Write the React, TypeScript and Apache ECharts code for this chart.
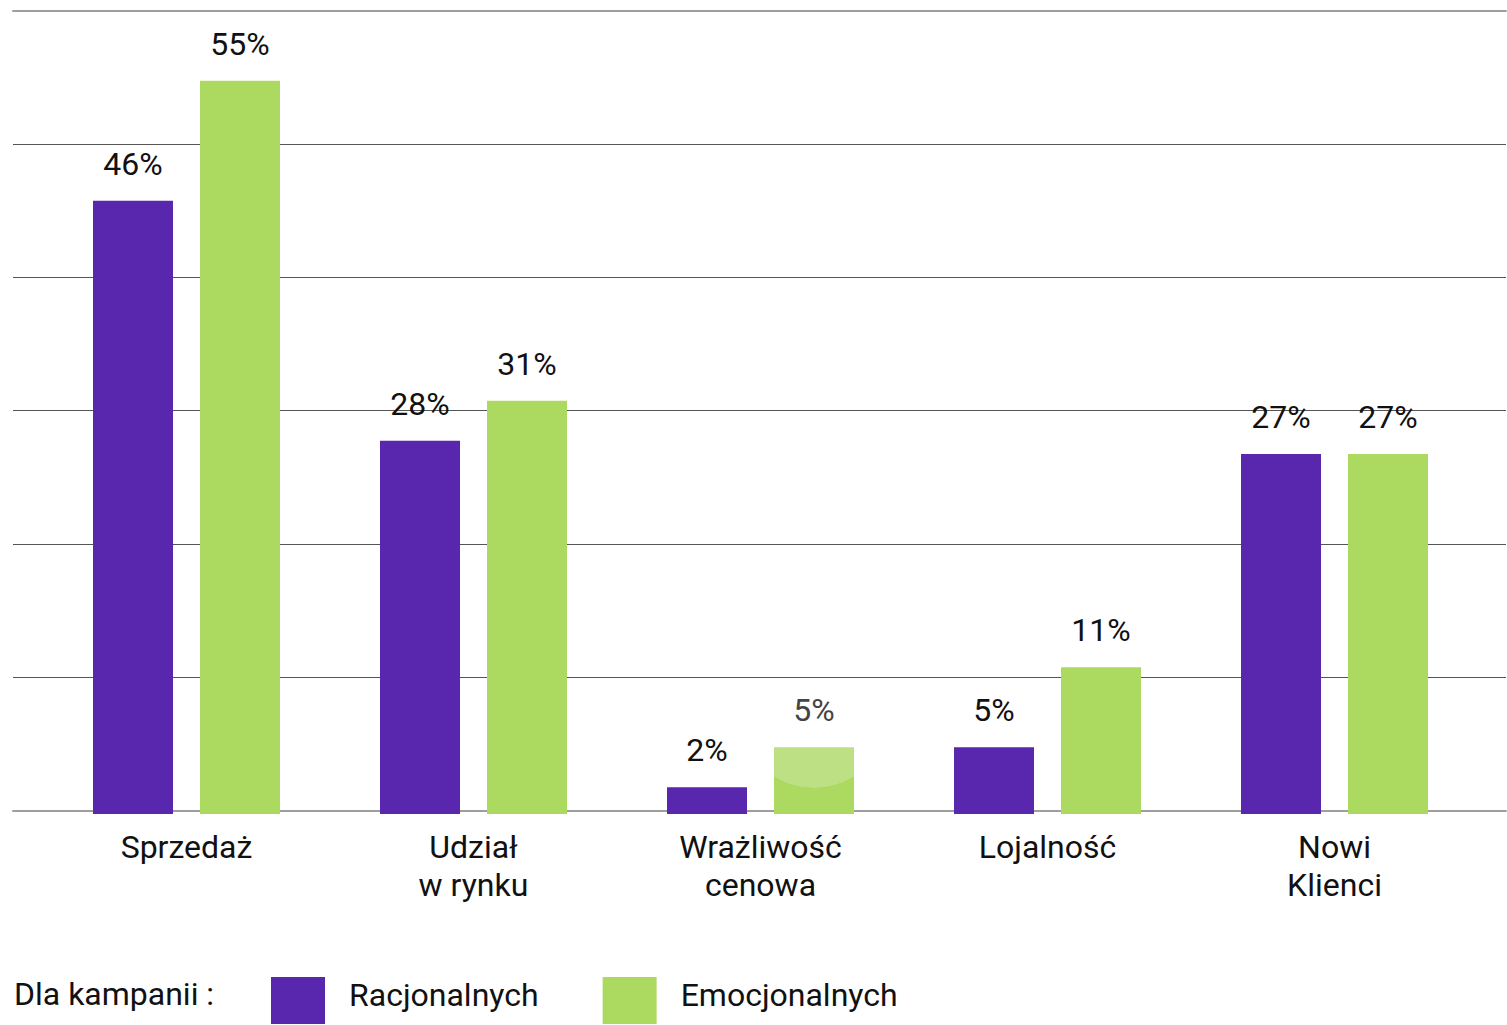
import { useEffect, useRef } from 'react';
import * as echarts from 'echarts';

// Campaign effectiveness by goal, in percent
const categories = ['Sprzedaż', 'Udział\nw rynku', 'Wrażliwość\ncenowa', 'Lojalność', 'Nowi\nKlienci'];
const rationalValues = [46, 28, 2, 5, 27];
const emotionalValues = [55, 31, 5, 11, 27];
const seriesNames = ['Racjonalnych', 'Emocjonalnych'];
const legendTitle = 'Dla kampanii :';
const axisMin = 0;
const axisMax = 60;
const axisStep = 10;
// emotional bar shown in its lit (hovered) state
const litIndex = 2;

const PURPLE = '#5927ad';
const GREEN = '#acd960';
const GREEN_LIT = '#bde084';
const FONT = 'Roboto, sans-serif';
const FONT_SIZE = 32;
const TEXT = '#111111';

const hiddenValueAxis = (gridIndex: number, position: string) => ({
  gridIndex,
  type: 'value',
  min: 0,
  max: 1,
  position,
  axisLine: { show: true, onZero: false, lineStyle: { color: '#9e9e9e', width: 2 } },
  axisTick: { show: false },
  axisLabel: { show: false },
  splitLine: { show: false },
});

const valueLabel = {
  show: true,
  position: 'top',
  distance: 21,
  formatter: '{c}%',
  fontFamily: FONT,
  fontSize: FONT_SIZE,
  color: TEXT,
};

export default function App() {
  const ref = useRef<HTMLDivElement>(null);

  useEffect(() => {
    if (!ref.current) return;
    const chart = echarts.init(ref.current, undefined, { renderer: 'svg' });

    const emotionalData = emotionalValues.map((v, i) =>
      i === litIndex
        ? {
            value: v,
            itemStyle: {
              color: new echarts.graphic.RadialGradient(0.5, -0.21, 0.816, [
                { offset: 0, color: GREEN_LIT },
                { offset: 0.995, color: GREEN_LIT },
                { offset: 1, color: GREEN },
              ]),
            },
            label: {
              color: '#444444',
              distance: 17,
              backgroundColor: 'rgba(255,255,255,0.5)',
              padding: [14, 44, 4, 44],
            },
          }
        : v
    );

    chart.setOption({
      animation: false,
      grid: [
        { left: 13, width: 1493, top: 10.5, height: 800 },
        { left: 43, width: 1435, top: 14, height: 800 },
      ],
      xAxis: [
        hiddenValueAxis(0, 'bottom'),
        hiddenValueAxis(0, 'top'),
        {
          gridIndex: 1,
          type: 'category',
          data: categories,
          axisLine: { show: false },
          axisTick: { show: false },
          axisLabel: {
            interval: 0,
            margin: 14,
            fontFamily: FONT,
            fontSize: FONT_SIZE,
            lineHeight: 38,
            color: TEXT,
          },
        },
      ],
      yAxis: [
        {
          gridIndex: 0,
          type: 'value',
          min: axisMin,
          max: axisMax,
          interval: axisStep,
          axisLine: { show: false },
          axisTick: { show: false },
          axisLabel: { show: false },
          splitLine: {
            show: true,
            showMinLine: false,
            showMaxLine: false,
            lineStyle: { color: '#555555', width: 1 },
          },
        },
        {
          gridIndex: 1,
          type: 'value',
          min: axisMin,
          max: axisMax,
          interval: axisStep,
          show: false,
          splitLine: { show: false },
        },
      ],
      legend: {
        left: 271,
        top: 977,
        padding: 0,
        icon: 'rect',
        itemWidth: 54,
        itemHeight: 47,
        itemGap: 64,
        selectedMode: false,
        data: seriesNames,
        formatter: '{n|{name}}',
        textStyle: {
          fontFamily: FONT,
          fontSize: FONT_SIZE,
          color: TEXT,
          padding: [0, 0, 0, 19],
          rich: {
            n: {
              fontFamily: FONT,
              fontSize: FONT_SIZE,
              color: TEXT,
              lineHeight: 32,
              padding: [0, 0, 12, 0],
            },
          },
        },
      },
      graphic: [
        {
          type: 'text',
          left: 14,
          top: 978,
          style: { text: legendTitle, font: `${FONT_SIZE}px ${FONT}`, fill: TEXT },
        },
      ],
      series: [
        {
          type: 'bar',
          name: seriesNames[0],
          xAxisIndex: 2,
          yAxisIndex: 1,
          data: rationalValues,
          barWidth: 80,
          barGap: '33.75%',
          itemStyle: { color: PURPLE },
          label: valueLabel,
          emphasis: { disabled: true },
        },
        {
          type: 'bar',
          name: seriesNames[1],
          xAxisIndex: 2,
          yAxisIndex: 1,
          data: emotionalData,
          barWidth: 80,
          barGap: '33.75%',
          itemStyle: { color: GREEN },
          label: valueLabel,
          emphasis: { disabled: true },
        },
      ],
    });

    return () => chart.dispose();
  }, []);

  return (
    <div
      ref={ref}
      style={{ position: 'absolute', left: 0, top: 0, width: 1507, height: 1025 }}
    />
  );
}
